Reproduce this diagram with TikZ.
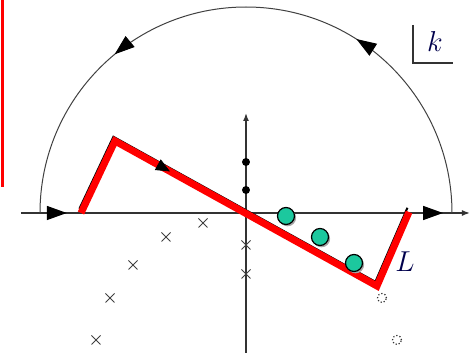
\documentclass[tikz,border=0pt]{standalone}
\usepackage{amsmath}
\usetikzlibrary{arrows.meta,decorations.markings,shapes.misc,shadows}
\definecolor{zgreen}{RGB}{28,200,158}
\tikzset{
  ax/.style={draw=black!80,line width=.75pt},
  cnt/.style={draw=black!75,line width=.5pt},
  lcnt/.style={draw=red,line width=3.5pt,line join=miter,line cap=butt},
  lsh/.style={draw=black,line width=1pt},
  pol/.style={circle,fill=black,minimum size=4pt,inner sep=0pt},
  zer/.style={circle,draw=black,fill=zgreen,line width=.6pt,minimum size=8.5pt,inner sep=0pt,
    drop shadow={shadow xshift=.8pt,shadow yshift=-.9pt,fill=black!35,opacity=1}},
  img/.style={circle,draw=black!80,densely dotted,line width=.6pt,minimum size=4.5pt,inner sep=0pt},
  crs/.style={cross out,draw=black!75,line width=.5pt,minimum size=4pt,inner sep=0pt},
  lb/.style={font=\fontsize{14}{14}\selectfont,text=black!70!blue},
}
\begin{document}
\begin{tikzpicture}[x=0.5pt,y=-0.5pt]
\useasboundingbox (0,0) rectangle (473,353);
% axes
\coordinate (xl) at (21,213); \coordinate (xr) at (470,213);
\coordinate (yb) at (246,353); \coordinate (yt) at (246,113);
\draw[ax,-{Latex[length=4pt,width=3pt]},
  decoration={markings,
    mark=at position .102 with {\arrow[black]{Triangle[length=10pt,width=7pt]}},
    mark=at position .94 with {\arrow[black]{Triangle[length=10pt,width=7pt]}}},
  postaction={decorate}] (xl) -- (xr);
\draw[ax,-{Latex[length=4pt,width=3pt]}] (yb) -- (yt);
% big semicircle, run anticlockwise
\coordinate (ar) at (452,213);
\draw[cnt,decoration={markings,
    mark=at position .32 with {\arrow[black]{Triangle[length=10pt,width=7pt]}},
    mark=at position .72 with {\arrow[black]{Triangle[length=10pt,width=7pt]}}},
  postaction={decorate}] (ar) arc[start angle=0,end angle=180,radius=103pt];
% the contour L, with its thin black edge
\coordinate (L0) at (81,213); \coordinate (L1) at (115,141);
\coordinate (L2) at (377,286); \coordinate (L3) at (409,212);
\draw[lsh,transform canvas={shift={(-.8pt,2.1pt)}}] (L0) -- (L1) -- (L2) -- (L3);
\draw[lcnt] (L0) -- (L1) -- (L2) -- (L3);
\path[decorate,decoration={markings,
  mark=at position .31 with {\arrow[black]{Triangle[length=7pt,width=6pt]}}}]
  (L0) -- (L1) -- (L2) -- (L3);
% poles on the axis
\node[pol] (p1) at (246,162) {}; \node[pol] (p2) at (246,190) {};
% zeros near the diagonal
\node[zer] (z1) at (286,216) {}; \node[zer] (z2) at (320,237) {};
\node[zer] (z3) at (354,263) {};
\node[img] (w1) at (382,298) {}; \node[img] (w2) at (397,340) {};
% crosses
\node[crs] (c1) at (203,223) {}; \node[crs] (c2) at (166,237) {};
\node[crs] (c3) at (133,265) {}; \node[crs] (c4) at (110,298) {};
\node[crs] (c5) at (96,340) {};
\node[crs] (c6) at (246,245) {}; \node[crs] (c7) at (246,274) {};
% labels
\coordinate (k0) at (413,25); \coordinate (k1) at (413,63); \coordinate (k2) at (453,63);
\draw[ax] (k0) -- (k1) -- (k2);
\node[lb] (kl) at (435,42) {$k$};
\node[lb] (ll) at (405,262) {$L$};
% stray red bar at the left edge
\coordinate (r0) at (2,0); \coordinate (r1) at (2,187);
\draw[draw=red,line width=1.5pt] (r0) -- (r1);
\end{tikzpicture}
\end{document}
